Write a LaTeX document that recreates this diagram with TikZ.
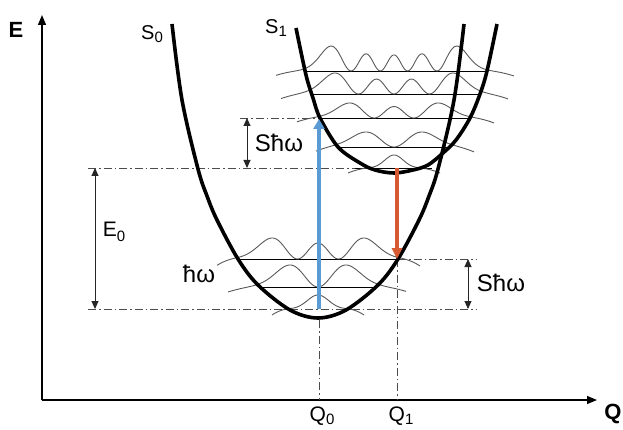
\documentclass[tikz,border=0pt]{standalone}
\usepackage{fontspec}
\setmainfont{Liberation Sans}
\usepackage{graphicx}
\usetikzlibrary{arrows.meta}
\definecolor{absblue}{RGB}{91,155,213}
\definecolor{emred}{RGB}{215,90,50}
\newcommand\lsub[3]{\raisebox{-#2pt}{\fontsize{#1pt}{#1pt}\selectfont #3}}
\begin{document}
\begin{tikzpicture}[x=1pt,y=-1pt,
  declare function={
    sq(\u)=(\u)*(\u);
    wz(\t)=exp(-(\t)*(\t));
    wo(\t)=sq(2*(\t)*exp(-(\t)*(\t)/2))/1.4715;
    wtw(\t)=sq((4*(\t)*(\t)-2)*exp(-(\t)*(\t)/2))/5.25;
    wth(\t)=sq((8*(\t)*(\t)*(\t)-12*(\t))*exp(-(\t)*(\t)/2))/29.4;
    wfo(\t)=sq((16*(\t)*(\t)*(\t)*(\t)-48*(\t)*(\t)+12)*exp(-(\t)*(\t)/2))/224;
    tl(\d,\w,\r)=sq(max(0,\d-\w)/(\r-\w));
  },
  pot/.style={line width=3.6pt,black,line join=round},
  lev/.style={line width=0.9pt,black},
  wave/.style={line width=0.9pt,black!65},
  dd/.style={line width=0.8pt,black!70,dash pattern=on 8pt off 3pt on 1.5pt off 3pt},
  dim/.style={line width=0.9pt,black!85,{Triangle[width=7pt,length=8pt]}-{Triangle[width=7pt,length=8pt]}},
  axis/.style={line width=1.3pt,black,-{Triangle[width=8pt,length=10pt]}},
  lbl/.style={inner sep=0pt,font=\fontsize{21pt}{24pt}\selectfont},
  hlbl/.style={inner sep=0pt,font=\fontsize{24pt}{28pt}\selectfont},
  slbl/.style={inner sep=0pt,font=\fontsize{20pt}{24pt}\selectfont},
  blbl/.style={inner sep=0pt,font=\fontsize{22pt}{26pt}\selectfont\bfseries},
]
\useasboundingbox (0,0) rectangle (623,430);

% axes
\coordinate (O) at (42,400);
\coordinate (Etop) at (42,15);
\coordinate (Qend) at (597,400);
\draw[axis] (O) -- (Etop);
\draw[axis] (O) -- (Qend);
\node[blbl] (lE) at (16,30) {E};
\node[blbl] (lQ) at (613,414) {Q};

% dash-dot guide lines
\draw[dd] (240,118) -- (320,118);
\draw[dd] (88,168) -- (355,168);
\draw[dd] (88,309) -- (477,309);
\draw[dd] (398,259) -- (477,259);
\draw[dd] (319,320) -- (319,400);
\draw[dd] (397,259) -- (397,400);

% S0 levels and wavefunctions (centre 318)
\draw[lev] (260,287) -- (376,287);
\draw[lev] (238,259) -- (398,259);
\draw[wave] plot[domain=272:364,samples=120] (\x,{309-14*wz((\x-318)/15)+6*tl(abs(\x-318),28,46)});
\draw[wave] plot[domain=228:406,samples=150] (\x,{287-22*wo((\x-318)/28)+5*tl(abs(\x-318),58,90)});
\draw[wave] plot[domain=217:420,samples=160] (\x,{259-21*wtw((\x-318)/29)+7*tl(abs(\x-318),80,102)});

% S1 levels and wavefunctions (centre 394)
\draw[lev] (355,168) -- (432,168);
\draw[lev] (338,147) -- (449,147);
\draw[lev] (320,118) -- (470,118);
\draw[lev] (312,94) -- (480,94);
\draw[lev] (304,71) -- (487,71);
\draw[wave] plot[domain=348:440,samples=120] (\x,{168-13*wz((\x-394)/13)+5*tl(abs(\x-394),22,46)});
\draw[wave] plot[domain=316:474,samples=150] (\x,{147-15*wo((\x-394)/28)+5*tl(abs(\x-394),55,80)});
\draw[wave] plot[domain=297:494,samples=160] (\x,{118-15*wtw((\x-394)/28)+5*tl(abs(\x-394),74,100)});
\draw[wave] plot[domain=281:508,samples=180] (\x,{94-21*wth((\x-394)/29)+5*tl(abs(\x-394),86,114)});
\draw[wave] plot[domain=276:514,samples=200] (\x,{71-25*wfo((\x-394)/26)+5*tl(abs(\x-394),90,120)});

% potential curves
\draw[pot] plot[smooth,tension=0.55] coordinates {(172,24) (182,100) (198,169) (207,196) (217,220) (238,259) (258,285) (290,310) (318,318) (346,310) (378,285) (398,259) (419,220) (429,196) (438,169) (454,100) (464,24)};
\draw[pot] plot[smooth,tension=0.55] coordinates {(296,28) (306,75) (313,98) (320,118) (338,147) (360,163) (375,170) (394,173) (413,170) (428,165) (443,153) (456,140) (470,118) (480,94) (487,71) (497,24)};
\node[slbl] (lS0) at (152,34) {S\lsub{15}{3}{0}};
\node[slbl] (lS1) at (276,28) {S\lsub{15}{3}{1}};

% transitions
\coordinate (ab0) at (319,309);
\coordinate (ab1) at (319,119);
\coordinate (em0) at (397,168);
\coordinate (em1) at (397,259);
\draw[line width=4pt,absblue,-{Triangle[width=11pt,length=10pt]}] (ab0) -- (ab1);
\draw[line width=3.4pt,emred,-{Triangle[width=10pt,length=11pt]}] (em0) -- (em1);

% dimension arrows
\coordinate (e0a) at (95,168);
\coordinate (e0b) at (95,309);
\coordinate (s1a) at (247,118);
\coordinate (s1b) at (247,168);
\coordinate (s2a) at (468,259);
\coordinate (s2b) at (468,309);
\draw[dim] (e0a) -- (e0b);
\draw[dim] (s1a) -- (s1b);
\draw[dim] (s2a) -- (s2b);

% labels
\node[lbl] (lE0) at (114,232) {E\lsub{15}{5}{0}};
\node[hlbl] (lS1w) at (279,143) {Sħω};
\node[hlbl] (lS2w) at (501,283) {Sħω};
\node[hlbl] (lhw) at (199,274) {ħω};
\node[lbl] (lQ0) at (322,416) {Q\lsub{15}{3}{0}};
\node[lbl] (lQ1) at (401,416) {Q\lsub{15}{3}{1}};
\end{tikzpicture}
\end{document}
